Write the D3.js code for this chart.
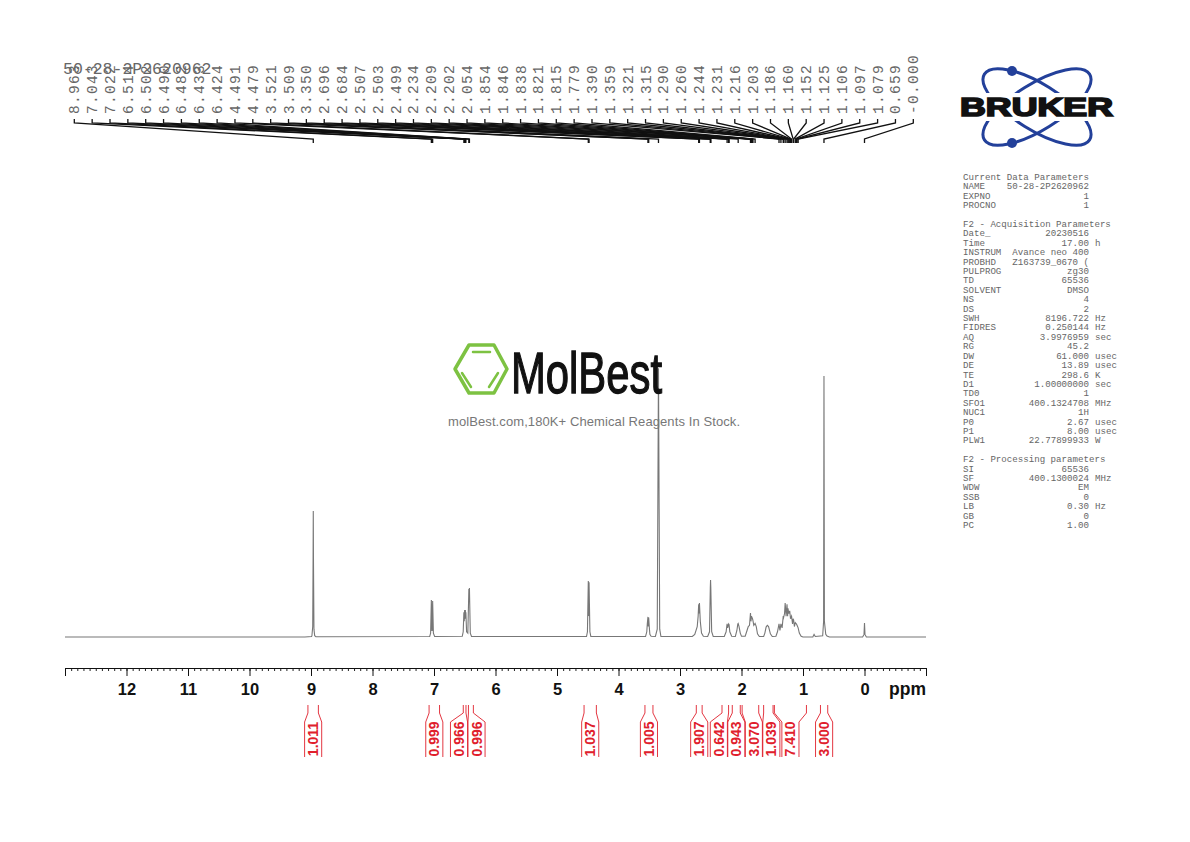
<!DOCTYPE html>
<html>
<head>
<meta charset="utf-8">
<title>50-28-2P2620962</title>
<script src="https://cdn.jsdelivr.net/npm/d3@7"></script>
<style>
body { margin:0; background:white; }
svg { display:block; }
.mono { font-family:"Liberation Mono",monospace; }
.sans { font-family:"Liberation Sans",Arial,sans-serif; }
</style>
</head>
<body>
<svg id="nmr"></svg>
<script>
//spectrum: chemical shift and height (tallest solvent-free peak = 100)
var spectrumPpm = [13,9.1,8.99,8.985,8.972,8.966,8.963,8.96,8.952,8.94,8.92,
    7.07,7.055,7.043,7.035,7.03,7.022,7.01,6.99,
    6.54,6.525,6.514,6.508,6.502,6.497,6.49,6.486,6.482,6.47,6.45,6.433,6.429,6.424,6.41,6.39,
    4.52,4.505,4.491,4.485,4.479,4.465,4.45,
    3.56,3.54,3.532,3.521,3.515,3.509,3.5,3.49,3.47,
    3.4,3.37,3.35,3.33,3.31,
    2.8,2.76,2.72,2.705,2.696,2.69,2.684,2.67,2.65,2.62,
    2.55,2.52,2.507,2.503,2.499,2.485,2.46,
    2.28,2.25,2.24,2.234,2.225,2.209,2.202,2.19,2.16,
    2.1,2.075,2.06,2.054,2.04,2.02,2,
    1.94,1.91,1.89,1.87,1.854,1.846,1.838,1.821,1.815,1.8,1.779,1.76,1.74,1.71,
    1.64,1.62,1.6,1.58,1.56,1.53,1.5,
    1.44,1.415,1.39,1.375,1.359,1.34,1.321,1.315,1.3,1.29,1.275,1.26,1.25,1.244,1.231,1.216,1.203,1.186,1.17,1.16,1.152,1.14,1.125,1.106,1.097,1.079,1.06,1.03,1,
    0.84,0.82,0.8,0.68,0.665,0.659,0.652,0.63,0.61,0.57,
    0.03,0.008,0,-0.008,-0.03,-1];
var spectrumInt = [0,0,0.2,0.5,4,30,48.3,30,3,0.5,0.1,
    0.2,1.5,14.2,2.5,2.5,13.8,1.5,0.2,
    0.3,2,9.5,6,10.3,7,10.3,7,9.5,2,1.5,18.4,14,18.8,1.5,0.2,
    0.2,2,21.5,8,21,2,0.2,
    0.2,2,5,7.7,4,7.5,4,1,0.3,
    0.2,3,103,3,0.2,
    0.2,1,4,8,12.5,9,13,6,1.5,0.3,
    0.2,2,19,21.8,19,2,0.2,
    0.2,2,4,5,3.5,5,4.7,2,0.3,
    0.2,2.5,5,5.2,4,1.5,0.3,
    0.3,2.5,4,4.5,9.2,6,8,7,6.5,4.5,5.2,4,1.2,0.2,
    0.2,1.5,3.8,4.5,4,1.2,0.2,
    0.3,2,5,2.5,5,3.5,8,7.5,9,13,8,12.5,8,11,9,10,7,8,5,7,6.5,4,5.5,5,4.5,3.5,1.5,0.3,0,
    0,1,0.2,0.5,6,100,6,1,0.4,0,
    0,1,5.4,1,0,0];

//peak picking labels along the top, as printed
var peakLabels = ["8.963","7.043","7.022","6.514","6.502","6.490","6.482","6.433","6.424",
    "4.491","4.479","3.521","3.509","3.350","2.696","2.684","2.507","2.503","2.499",
    "2.234","2.209","2.202","2.054","1.854","1.846","1.838","1.821","1.815","1.779",
    "1.390","1.359","1.321","1.315","1.290","1.260","1.244","1.231","1.216","1.203",
    "1.186","1.160","1.152","1.125","1.106","1.097","1.079","0.659","-0.000"];

//integrals: printed value and the ppm range it covers
var integralLabels = ["1.011","0.999","0.966","0.996","1.037","1.005","1.907","0.642","0.943","3.070","1.039","7.410","3.000"];
var integralFrom = [9.05,7.08,6.524,6.44,4.56,3.57,2.735,2.317,2.15,1.99,1.64,1.465,0.716];
var integralTo = [8.88,6.91,6.48,6.36,4.36,3.44,2.64,2.21,2.02,1.72,1.487,0.944,0.598];

var axisLabels = [12,11,10,9,8,7,6,5,4,3,2,1,0];

//the parameter listing on the right, "" rows are the gaps
var paramNames = ["Current Data Parameters","NAME","EXPNO","PROCNO","",
    "F2 - Acquisition Parameters","Date_","Time","INSTRUM","PROBHD","PULPROG","TD","SOLVENT","NS","DS",
    "SWH","FIDRES","AQ","RG","DW","DE","TE","D1","TD0","SFO1","NUC1","P0","P1","PLW1","",
    "F2 - Processing parameters","SI","SF","WDW","SSB","LB","GB","PC"];
var paramValues = ["","50-28-2P2620962","1","1","",
    "","20230516","17.00","Avance neo 400","Z163739_0670 (","zg30","65536","DMSO","4","2",
    "8196.722","0.250144","3.9976959","45.2","61.000","13.89","298.6","1.00000000","1","400.1324708","1H","2.67","8.00","22.77899933","",
    "","65536","400.1300024","EM","0","0.30","0","1.00"];
var paramUnits = ["","","","","",
    "","","h","","","","","","","",
    "Hz","Hz","sec","","usec","usec","K","sec","","MHz","","usec","usec","W","",
    "","","MHz","","","Hz","",""];

var screen = {width:1190, height:842};

var svg = d3.select("svg#nmr")
    .attr("width",screen.width)
    .attr("height",screen.height)
    .style("background-color","white");

//ppm runs backwards, 13 on the left
var xScale = d3.scaleLinear().domain([13,-1]).range([65,926]);
var yScale = d3.scaleLinear().domain([0,100]).range([637,376]);

var drawSpectrum = function()
{
    var lineGenerator = d3.line()
        .x(function(p){return xScale(p);})
        .y(function(p,i){return yScale(spectrumInt[i]);});

    svg.append("path")
        .datum(spectrumPpm)
        .attr("d",lineGenerator)
        .attr("fill","none")
        .attr("stroke","#777")
        .attr("stroke-width",1.1);
}

var drawAxis = function()
{
    var minor = d3.range(-10,131).map(function(d){return d/10;});

    svg.append("g")
        .attr("transform","translate(0,668)")
        .call(d3.axisBottom(xScale).tickValues(minor).tickSize(3).tickSizeOuter(0).tickFormat(""))
        .attr("color","#222");

    var major = svg.append("g")
        .attr("transform","translate(0,668)")
        .call(d3.axisBottom(xScale).tickValues(axisLabels.concat([13,-1])).tickSize(8).tickSizeOuter(0)
            .tickFormat(function(d){return d==13||d==-1 ? "" : d;}))
        .attr("color","#111");

    major.selectAll("text")
        .attr("y",15)
        .attr("class","sans")
        .style("font-size","16.5px")
        .style("font-weight","bold");

    svg.append("text")
        .text("ppm")
        .attr("class","sans")
        .attr("text-anchor","end")
        .attr("x",926)
        .attr("y",695)
        .attr("fill","#111")
        .style("font-size","17.5px")
        .style("font-weight","bold");
}

var drawPeakLabels = function()
{
    var labelX = d3.scalePoint().domain(peakLabels).range([74.3,913.3]);

    var g = svg.selectAll("g.peak")
        .data(peakLabels)
        .enter()
        .append("g")
        .classed("peak",true);

    g.append("path")
        .attr("d",function(d){
            var lx = labelX(d);
            var px = xScale(+d);
            return "M"+lx+",119L"+lx+",123L"+px+",139L"+px+",143";
        })
        .attr("fill","none")
        .attr("stroke","#111")
        .attr("stroke-width",1.3);

    g.append("text")
        .text(function(d){return d;})
        .attr("class","mono")
        .attr("transform",function(d){return "translate("+(labelX(d)+5)+",114) rotate(-90)";})
        .attr("fill","#666")
        .style("font-size","14.5px")
        .style("letter-spacing","1.3px");

    svg.append("text")
        .text("50-28-2P2620962")
        .attr("class","mono")
        .attr("x",63)
        .attr("y",74)
        .attr("fill","#666")
        .style("font-size","16.5px");
}

var drawIntegrals = function()
{
    var red = "#e0202c";
    var gap = 17.5;

    //the boxes sit under their ranges and get pushed apart when they would touch
    var centers = integralLabels.map(function(d,i){
        return (xScale(integralFrom[i])+xScale(integralTo[i]))/2;
    });
    for (var n = 0; n < 200; n++) {
        for (var i = 0; i < centers.length-1; i++) {
            var short = gap-(centers[i+1]-centers[i]);
            if (short > 0) {
                centers[i] -= short/2;
                centers[i+1] += short/2;
            }
        }
    }

    var g = svg.selectAll("g.integral")
        .data(integralLabels)
        .enter()
        .append("g")
        .classed("integral",true);

    g.append("path")
        .attr("d",function(d,i){
            var a = xScale(integralFrom[i]), b = xScale(integralTo[i]);
            var c = centers[i];
            var half = gap/2-0.2;
            return "M"+a+",705L"+a+",713L"+(c-half)+",722L"+(c-half)+",757"
                +"M"+b+",705L"+b+",713L"+(c+half)+",722L"+(c+half)+",757";
        })
        .attr("fill","none")
        .attr("stroke",red)
        .attr("stroke-width",0.9);

    g.append("text")
        .text(function(d){return d;})
        .attr("class","sans")
        .attr("text-anchor","middle")
        .attr("transform",function(d,i){return "translate("+(centers[i]+5)+",739) rotate(-90)";})
        .attr("fill",red)
        .style("font-size","14px")
        .style("font-weight","bold");
}

var drawParams = function()
{
    var rowY = d3.scaleLinear().domain([0,paramNames.length-1]).range([180,528]);

    var rows = svg.selectAll("g.param")
        .data(paramNames)
        .enter()
        .append("g")
        .classed("param",true)
        .attr("class","param mono")
        .attr("transform",function(d,i){return "translate(0,"+rowY(i)+")";})
        .attr("fill","#666")
        .style("font-size","9.15px");

    rows.append("text").attr("x",963).text(function(d){return d;});
    rows.append("text").attr("x",1089).attr("text-anchor","end").text(function(d,i){return paramValues[i];});
    rows.append("text").attr("x",1095).text(function(d,i){return paramUnits[i];});
}

var drawBruker = function()
{
    var blue = "#23409a";
    var logo = svg.append("g");

    [32,-32].forEach(function(angle){
        logo.append("ellipse")
            .attr("cx",1037)
            .attr("cy",107)
            .attr("rx",62)
            .attr("ry",23)
            .attr("transform","rotate("+angle+",1037,107)")
            .attr("fill","none")
            .attr("stroke",blue)
            .attr("stroke-width",3);
    });

    logo.append("rect")
        .attr("x",955).attr("y",93)
        .attr("width",165).attr("height",28)
        .attr("fill","white");

    [71,143].forEach(function(y){
        logo.append("circle")
            .attr("cx",1012).attr("cy",y).attr("r",5)
            .attr("fill",blue);
    });

    logo.append("text")
        .text("BRUKER")
        .attr("class","sans")
        .attr("x",960)
        .attr("y",116)
        .attr("textLength",153)
        .attr("lengthAdjust","spacingAndGlyphs")
        .attr("fill","#111")
        .attr("stroke","#111")
        .attr("stroke-width",1.7)
        .style("font-size","26px")
        .style("font-weight","bold");
}

var drawMolBest = function()
{
    var green = "#7dc242";
    var logo = svg.append("g");

    logo.append("path")
        .attr("d","M455,369L469,345L494,345L507,369L494,393L469,393Z")
        .attr("fill","none")
        .attr("stroke",green)
        .attr("stroke-width",3.5)
        .attr("stroke-linejoin","round");

    logo.append("path")
        .attr("d","M473,352L490,352M462,373L471,387M498,373L489,387")
        .attr("fill","none")
        .attr("stroke",green)
        .attr("stroke-width",2.5)
        .attr("stroke-linecap","round");

    logo.append("text")
        .text("MolBest")
        .attr("class","sans")
        .attr("x",511)
        .attr("y",393)
        .attr("textLength",151)
        .attr("lengthAdjust","spacingAndGlyphs")
        .attr("fill","#111")
        .attr("stroke","#111")
        .attr("stroke-width",1.3)
        .style("font-size","58px");

    logo.append("text")
        .text("molBest.com,180K+ Chemical Reagents In Stock.")
        .attr("class","sans")
        .attr("x",448)
        .attr("y",426)
        .attr("textLength",292)
        .attr("fill","#777")
        .style("font-size","13px");
}

drawSpectrum();
drawAxis();
drawPeakLabels();
drawIntegrals();
drawParams();
drawBruker();
drawMolBest();
</script>
</body>
</html>
